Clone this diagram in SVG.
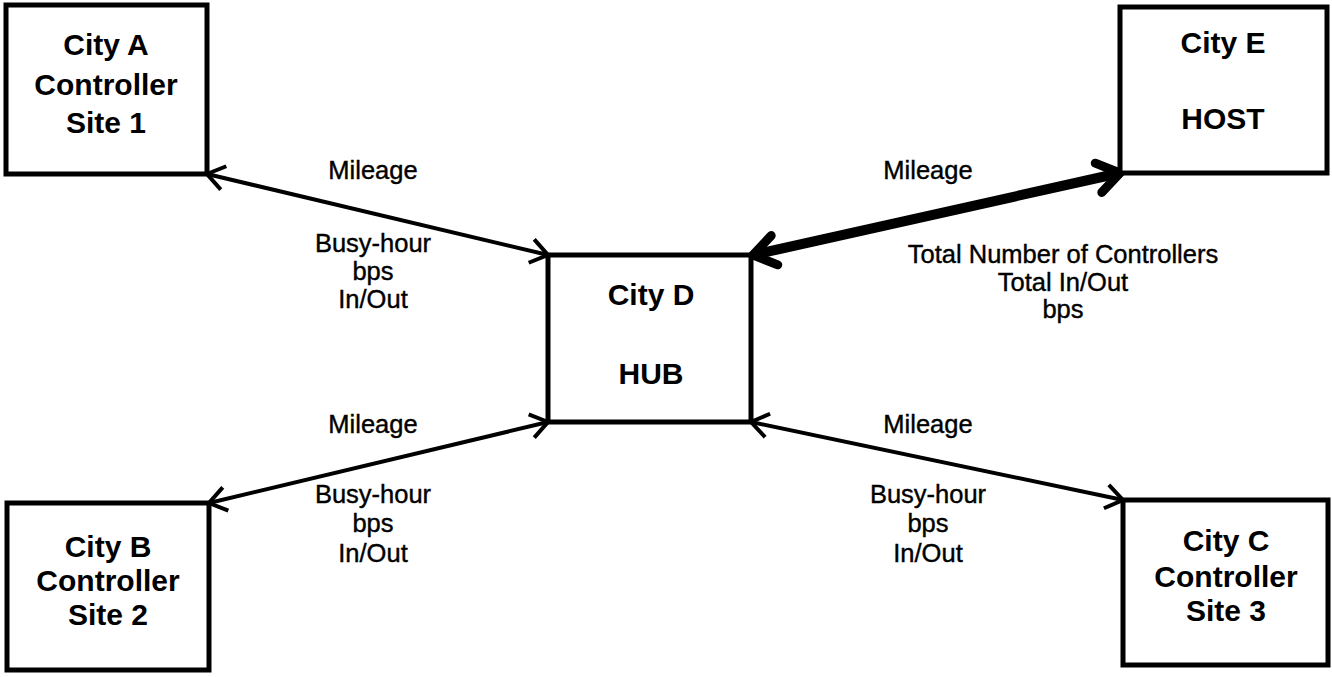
<svg xmlns="http://www.w3.org/2000/svg" width="1332" height="677" viewBox="0 0 1332 677">
  <style>
    .box { fill: #fff; stroke: #000; stroke-width: 5; }
    .name { font-family: "Liberation Sans", Arial, sans-serif; font-weight: bold; font-size: 30px; text-anchor: middle; fill: #000; }
    .lbl { font-family: "Liberation Sans", Arial, sans-serif; font-size: 25.5px; text-anchor: middle; fill: #000; stroke: #000; stroke-width: 0.4; }
    .link { fill: none; stroke: #000; stroke-width: 4; }
    .trunk { fill: none; stroke: #000; stroke-width: 10; }
  </style>
  <defs>
    <marker id="open" markerUnits="userSpaceOnUse" viewBox="-24 -16 28 32" refX="0" refY="0" markerWidth="28" markerHeight="32" orient="auto-start-reverse">
      <path d="M -17 -12 L 0 0 L -17 12" fill="none" stroke="#000" stroke-width="4" stroke-linejoin="miter"/>
    </marker>
    <marker id="heavy" markerUnits="userSpaceOnUse" viewBox="-32 -22 36 44" refX="0" refY="0" markerWidth="36" markerHeight="44" orient="auto-start-reverse">
      <path d="M -22 -15 L 0 0 L -22 15" fill="none" stroke="#000" stroke-width="9" stroke-linecap="round" stroke-linejoin="miter"/>
    </marker>
  </defs>
  <rect width="1332" height="677" fill="#fff"/>

  <!-- links between sites and the hub -->
  <g id="connectors">
    <line class="link" x1="207" y1="174" x2="548" y2="255" marker-start="url(#open)" marker-end="url(#open)"/>
    <line class="link" x1="209" y1="503" x2="548" y2="422" marker-start="url(#open)" marker-end="url(#open)"/>
    <line class="link" x1="751" y1="422" x2="1123" y2="500" marker-start="url(#open)" marker-end="url(#open)"/>
    <line class="trunk" x1="753" y1="255" x2="1120" y2="173" marker-start="url(#heavy)" marker-end="url(#heavy)"/>
  </g>

  <!-- link annotations -->
  <g id="labels">
    <text class="lbl" x="373" y="179">Mileage</text>
    <text class="lbl" x="373" y="252">Busy-hour</text>
    <text class="lbl" x="373" y="280">bps</text>
    <text class="lbl" x="373" y="308">In/Out</text>

    <text class="lbl" x="928" y="179">Mileage</text>
    <text class="lbl" x="1063" y="263">Total Number of Controllers</text>
    <text class="lbl" x="1063" y="291">Total In/Out</text>
    <text class="lbl" x="1063" y="318">bps</text>

    <text class="lbl" x="373" y="433">Mileage</text>
    <text class="lbl" x="373" y="503">Busy-hour</text>
    <text class="lbl" x="373" y="532">bps</text>
    <text class="lbl" x="373" y="562">In/Out</text>

    <text class="lbl" x="928" y="433">Mileage</text>
    <text class="lbl" x="928" y="503">Busy-hour</text>
    <text class="lbl" x="928" y="532">bps</text>
    <text class="lbl" x="928" y="562">In/Out</text>
  </g>

  <g id="cityA">
    <rect class="box" x="6" y="5" width="201" height="169"/>
    <text class="name" x="106" y="55">City A</text>
    <text class="name" x="106" y="95">Controller</text>
    <text class="name" x="106" y="133">Site 1</text>
  </g>

  <g id="cityB">
    <rect class="box" x="7" y="503" width="202" height="167"/>
    <text class="name" x="108" y="557">City B</text>
    <text class="name" x="108" y="591">Controller</text>
    <text class="name" x="108" y="625">Site 2</text>
  </g>

  <g id="cityC">
    <rect class="box" x="1123" y="500" width="205" height="165"/>
    <text class="name" x="1226" y="551">City C</text>
    <text class="name" x="1226" y="587">Controller</text>
    <text class="name" x="1226" y="621">Site 3</text>
  </g>

  <g id="cityD">
    <rect class="box" x="548" y="255" width="203" height="167"/>
    <text class="name" x="651" y="305">City D</text>
    <text class="name" x="651" y="384">HUB</text>
  </g>

  <g id="cityE">
    <rect class="box" x="1120" y="7" width="207" height="166"/>
    <text class="name" x="1223" y="53">City E</text>
    <text class="name" x="1223" y="129">HOST</text>
  </g>
</svg>
